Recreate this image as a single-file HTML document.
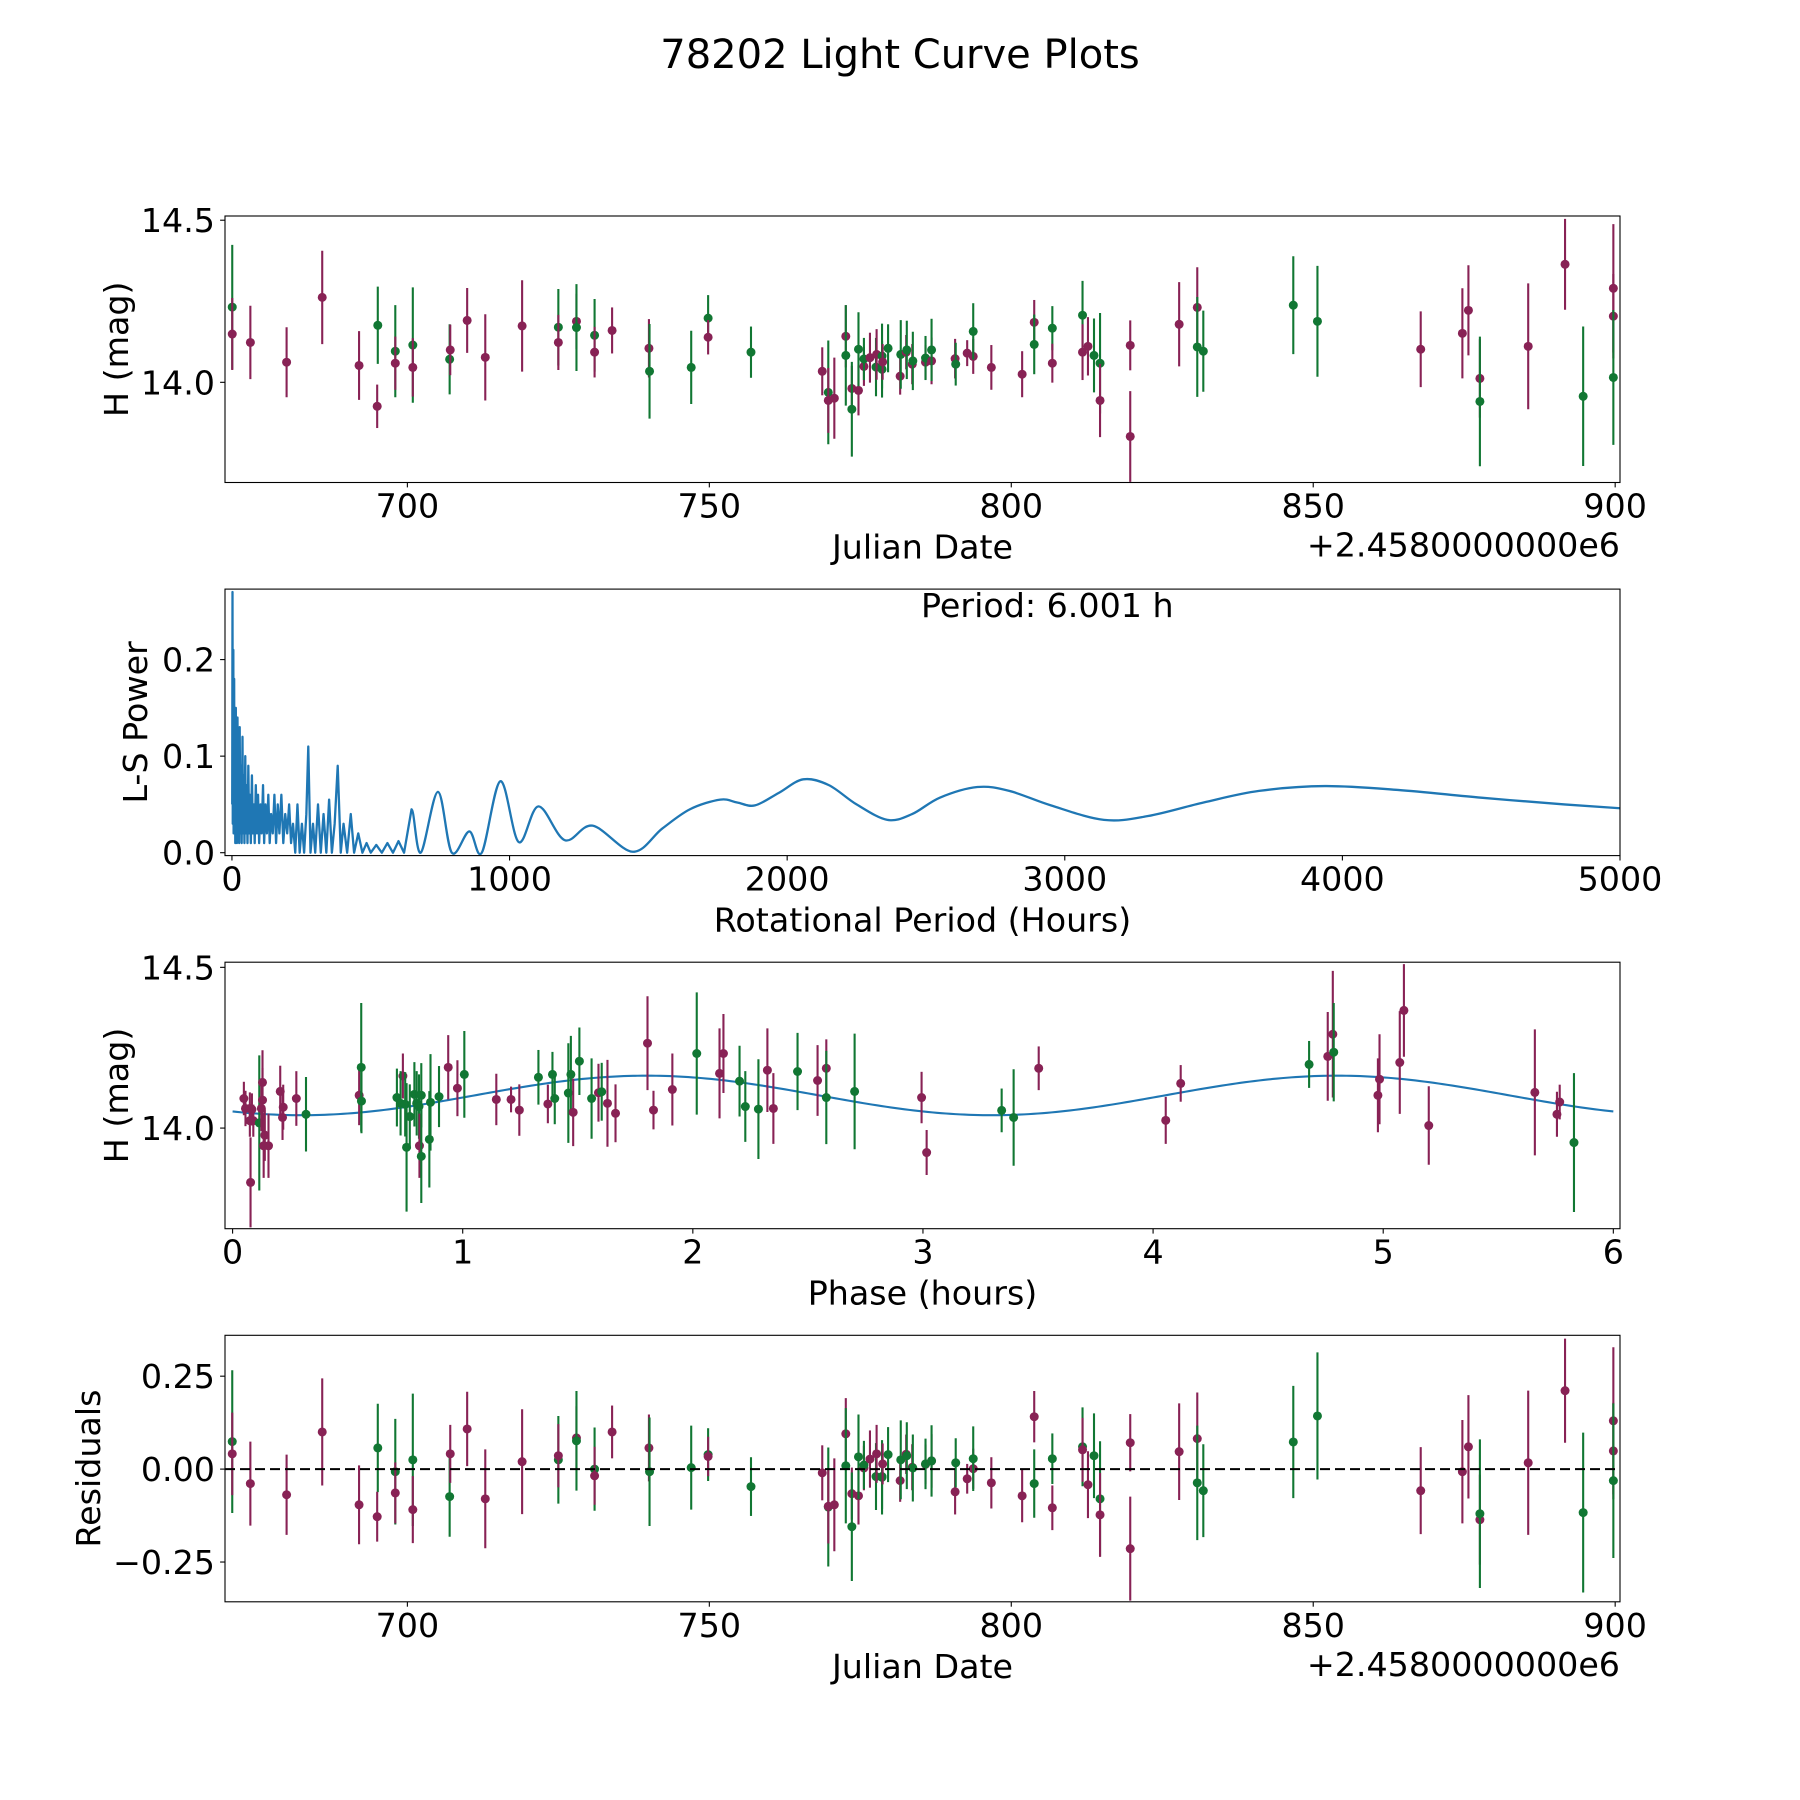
<!DOCTYPE html>
<html><head><meta charset="utf-8"><title>78202 Light Curve Plots</title>
<style>html,body{margin:0;padding:0;background:#fff}svg{display:block}text{font-family:"DejaVu Sans","Liberation Sans",sans-serif;fill:#000}</style>
</head><body>
<svg id="fig" xmlns="http://www.w3.org/2000/svg" width="1800" height="1800" viewBox="0 0 1800 1800">
<rect x="0" y="0" width="1800" height="1800" fill="#fff"/>
<text x="900" y="68" font-size="40" text-anchor="middle">78202 Light Curve Plots</text>
</svg>
<script>
// ---- Panel 1 & 4: observations vs Julian Date (offset 2458000) ----
const obsDates = [671.0,671.0,674.0,680.0,685.9,692.0,695.1,695.0,698.0,698.0,700.9,700.9,707.0,707.1,709.9,712.9,719.0,725.0,725.0,728.0,728.0,731.0,731.0,733.9,740.0,740.1,747.0,
749.8,749.8,756.9,768.7,769.7,769.7,770.7,772.6,772.6,773.6,773.6,774.7,774.7,775.6,775.6,776.6,777.6,777.7,778.6,778.6,778.7,779.6,781.6,781.7,782.6,782.7,783.6,783.7,785.8,785.8,786.8,786.8,790.7,790.8,792.7,793.7,793.7,796.7,801.8,803.8,803.8,806.8,806.8,811.8,811.8,812.7,813.7,814.7,814.7,819.7,819.7,827.8,
830.8,830.8,831.8,846.7,850.7,867.8,874.7,875.7,877.6,877.6,885.6,891.7,894.7,899.7,899.7,899.7];
const obsMags = [14.232,14.149,14.123,14.062,14.262,14.052,14.176,13.926,14.096,14.059,14.115,14.046,14.071,14.100,14.191,14.077,14.174,14.170,14.123,14.188,14.169,14.145,14.093,14.160,14.105,14.034,14.046,
14.198,14.139,14.093,14.034,13.969,13.944,13.951,14.142,14.083,13.981,13.917,13.975,14.102,14.049,14.072,14.076,14.047,14.086,14.081,14.040,14.063,14.105,14.019,14.086,14.093,14.100,14.056,14.066,14.062,14.075,14.066,14.100,14.073,14.056,14.090,14.080,14.157,14.046,14.025,14.185,14.117,14.167,14.059,14.207,14.093,14.111,14.083,14.059,13.944,14.114,13.833,14.179,
14.231,14.109,14.096,14.238,14.188,14.102,14.151,14.222,14.012,13.941,14.111,14.364,13.957,14.290,14.204,14.015];
const obsErrs = [0.192,0.111,0.113,0.108,0.144,0.106,0.119,0.067,0.142,0.082,0.178,0.090,0.108,0.078,0.100,0.133,0.141,0.118,0.085,0.085,0.134,0.112,0.078,0.071,0.090,0.146,0.113,
0.071,0.053,0.079,0.074,0.160,0.100,0.125,0.096,0.155,0.070,0.146,0.077,0.114,0.060,0.065,0.077,0.090,0.078,0.100,0.087,0.055,0.074,0.057,0.106,0.053,0.090,0.062,0.090,0.053,0.068,0.072,0.096,0.061,0.066,0.040,0.054,0.087,0.069,0.071,0.069,0.092,0.068,0.060,0.106,0.086,0.090,0.114,0.155,0.113,0.077,0.140,0.130,
0.124,0.154,0.125,0.151,0.171,0.117,0.139,0.139,0.121,0.200,0.194,0.140,0.215,0.198,0.130,0.208];
const obsFilters = ["G","M","M","M","M","M","G","M","G","M","G","M","G","M","M","M","M","G","M","M","G","G","M","M","M","G","G",
"G","M","G","M","G","M","M","M","G","M","G","M","G","M","G","M","G","M","G","G","M","G","M","G","M","G","M","G","M","G","M","G","M","G","M","M","G","M","M","M","G","G","M","G","M","M","G","G","M","M","M","M",
"M","G","G","G","G","M","M","M","M","G","M","M","G","M","M","G"];
const obsResiduals = [0.074,0.041,-0.039,-0.069,0.100,-0.096,0.057,-0.128,-0.007,-0.064,0.025,-0.109,-0.074,0.041,0.108,-0.080,0.020,0.025,0.036,0.084,0.076,0.000,-0.018,0.100,0.057,-0.007,0.004,
0.039,0.034,-0.047,-0.010,-0.102,-0.100,-0.096,0.095,0.009,-0.066,-0.155,-0.072,0.033,0.003,0.011,0.027,-0.020,0.041,-0.022,-0.020,0.014,0.039,-0.031,0.025,0.040,0.036,0.005,0.003,0.013,0.014,0.022,0.022,-0.061,0.017,-0.026,0.001,0.028,-0.037,-0.072,0.141,-0.039,0.028,-0.104,0.060,0.052,-0.042,0.036,-0.080,-0.123,0.071,-0.214,0.047,
0.082,-0.037,-0.058,0.073,0.143,-0.058,-0.007,0.060,-0.136,-0.120,0.017,0.211,-0.117,0.130,0.049,-0.031];

// ---- Panel 2: Lomb-Scargle periodogram ----
const lsPeriods = [1,2,3,5,6,8,9,11,12,14,15,17,18,20,22,24,26,28,30,33,35,38,40,43,45,48,50,53,56,59,62,65,68,72,75,79,82,86,90,94,98,103,107,112,116,121,126,131,136,141,147,153,159,165,171,178,185,192,199,206,213,220,228,236,244,252,260,268,275,283,292,300,310,320,330,340,350,360,370,381,392,402,415,428,440,455,470,485,500,520,540,560,580,600,620,647,680,742,792,855,900,967,1033,1104,1199,1299,1444,1550,1650,1759,1820,1884,1970,2058,2150,2250,2361,2450,2550,2685,2800,2950,3141,3300,3500,3700,3937,4200,4500,4800,5000];
const lsPowers = [0.05,0.27,0.03,0.21,0.02,0.18,0.03,0.14,0.01,0.15,0.02,0.12,0.01,0.14,0.02,0.10,0.01,0.13,0.02,0.09,0.01,0.12,0.02,0.08,0.01,0.10,0.02,0.07,0.01,0.09,0.02,0.06,0.01,0.08,0.02,0.05,0.01,0.07,0.02,0.06,0.01,0.05,0.02,0.07,0.01,0.05,0.02,0.06,0.01,0.04,0.02,0.06,0.01,0.05,0.02,0.06,0.01,0.04,0.02,0.05,0.01,0.03,0.0,0.05,0.0,0.03,0.0,0.04,0.11,0.0,0.03,0.0,0.05,0.0,0.04,0.0,0.055,0.0,0.03,0.09,0.0,0.03,0.0,0.04,0.0,0.02,0.0,0.01,0.0,0.008,0.0,0.01,0.0,0.012,0.0,0.045,0.0,0.063,0.0,0.022,0.0,0.074,0.011,0.048,0.013,0.028,0.001,0.025,0.045,0.055,0.052,0.049,0.062,0.076,0.070,0.050,0.034,0.040,0.057,0.068,0.064,0.049,0.034,0.038,0.052,0.064,0.069,0.065,0.057,0.050,0.046];
const periodLabel = "Period: 6.001 h";

// ---- Panel 3: phase-folded light curve ----
const phaseHours = [0.049,0.056,0.075,0.078,0.084,0.075,0.09,0.116,0.13,0.13,0.125,0.14,0.135,0.156,0.207,0.217,0.22,0.277,0.319,0.55,0.559,0.56,0.714,0.74,0.73,0.75,0.756,0.77,0.79,0.80,0.81,0.82,0.812,0.82,0.855,0.86,0.897,0.937,0.977,1.007,1.146,1.21,1.246,1.329,1.37,1.39,1.40,1.459,1.47,1.48,1.507,1.56,1.59,1.604,1.629,1.664,1.803,1.829,1.911,2.017,2.116,2.133,2.203,2.228,2.285,2.324,2.35,2.455,2.542,2.58,2.58,2.703,2.994,3.016,3.342,3.394,3.503,4.055,4.12,4.678,4.759,4.781,4.785,4.977,4.984,5.072,5.09,5.198,5.659,5.755,5.767,5.829];
const phaseMags = [14.092,14.061,14.061,13.831,14.058,14.023,14.023,14.016,14.142,14.087,14.061,13.978,13.945,13.945,14.114,14.033,14.065,14.092,14.043,14.102,14.189,14.084,14.095,14.162,14.077,14.074,13.94,14.036,14.105,14.077,14.067,14.102,13.945,13.912,13.965,14.08,14.098,14.189,14.124,14.167,14.089,14.089,14.056,14.158,14.075,14.167,14.092,14.109,14.167,14.049,14.208,14.092,14.11,14.113,14.077,14.046,14.264,14.056,14.12,14.232,14.17,14.232,14.146,14.067,14.059,14.18,14.061,14.176,14.148,14.186,14.095,14.114,14.095,13.924,14.055,14.033,14.186,14.024,14.139,14.198,14.223,14.292,14.236,14.102,14.152,14.204,14.366,14.008,14.111,14.043,14.081,13.955];
const phaseErrs = [0.052,0.055,0.05,0.14,0.05,0.05,0.05,0.21,0.1,0.1,0.07,0.08,0.1,0.1,0.08,0.07,0.07,0.085,0.116,0.093,0.2,0.1,0.09,0.07,0.1,0.1,0.2,0.1,0.1,0.1,0.1,0.1,0.1,0.145,0.15,0.15,0.095,0.1,0.087,0.135,0.08,0.04,0.08,0.085,0.06,0.07,0.08,0.155,0.12,0.105,0.105,0.125,0.09,0.09,0.135,0.09,0.146,0.06,0.112,0.19,0.14,0.123,0.11,0.11,0.155,0.13,0.11,0.12,0.11,0.09,0.145,0.18,0.08,0.07,0.068,0.15,0.068,0.073,0.057,0.073,0.138,0.197,0.153,0.115,0.14,0.16,0.144,0.122,0.196,0.07,0.054,0.216];
const phaseFilters = ["M","M","M","M","M","M","M","G","M","M","M","M","M","M","M","M","M","M","G","M","G","G","G","M","G","G","G","G","G","G","G","G","M","G","G","G","G","M","M","G","M","M","M","G","M","G","G","G","G","M","G","G","M","G","M","M","M","M","M","G","M","M","G","G","G","M","M","G","M","M","G","G","M","M","G","G","M","M","M","G","M","M","G","M","M","M","M","M","M","M","M","G"];
// fitted model: mean, amplitude, peak phase, harmonic period (hours)
const modelParams = [14.1015, 0.0615, 1.80, 3.0];

// ---- tick labels ----
const jdTicks = [700,750,800,850,900];
const lsXTicks = [0,1000,2000,3000,4000,5000];
const lsYTicks = [0.0,0.1,0.2];
const lsYLabels = ["0.0","0.1","0.2"];
const magTicks = [14.0,14.5];
const magLabels = ["14.0","14.5"];
const phaseTicks = [0,1,2,3,4,5,6];
const resTicks = [-0.25,0,0.25];
const resLabels = ["\u22120.25","0.00","0.25"];

const NS = "http://www.w3.org/2000/svg";
const svg = document.getElementById('fig');
const COL = {M:"#882255", G:"#117733"};
const L = 225, R = 1620;
const FS = 33.3;
function mk(tag, attrs, parent){ const e = document.createElementNS(NS, tag); for (const k in attrs) e.setAttribute(k, attrs[k]); (parent||svg).appendChild(e); return e; }
function scale(d0,d1,p0,p1){ return v => p0 + (v-d0)/(d1-d0)*(p1-p0); }

function makeAxes(id, top, bot, xd, yd){
  const g = mk('g', {});
  
  
  const cp = mk('clipPath', {id: id+'-clip'}, g);
  mk('rect', {x:L, y:top, width:R-L, height:bot-top}, cp);
  const plot = mk('g', {'clip-path':'url(#'+id+'-clip)'}, g);
  
  
  return {g, plot, top, bot, x: scale(xd[0],xd[1],L,R), y: scale(yd[0],yd[1],bot,top)};
}
function frame(ax, name){
  const r = mk('rect', {x:L, y:ax.top, width:R-L, height:ax.bot-ax.top, fill:'none', stroke:'#000', 'stroke-width':1.1}, ax.g);
  
  
}
function xTicks(ax, vals, labels, name){
  vals.forEach((v,i) => {
    const px = ax.x(v);
    mk('line', {x1:px, x2:px, y1:ax.bot, y2:ax.bot+4.9, stroke:'#000', 'stroke-width':1.1}, ax.g);
    const t = mk('text', {x:px, y:ax.bot+35, 'font-size':FS, 'text-anchor':'middle'}, ax.g);
    t.textContent = labels[i];
    
    
  });
}
function yTicks(ax, vals, labels, name){
  vals.forEach((v,i) => {
    const py = ax.y(v);
    mk('line', {x1:L-4.9, x2:L, y1:py, y2:py, stroke:'#000', 'stroke-width':1.1}, ax.g);
    const t = mk('text', {x:L-10, y:py+12, 'font-size':FS, 'text-anchor':'end'}, ax.g);
    t.textContent = labels[i];
    
    
  });
}
function xLabel(ax, txt, name){
  const t = mk('text', {x:(L+R)/2, y:ax.bot+76, 'font-size':FS, 'text-anchor':'middle'}, ax.g);
  t.textContent = txt;
  
  
}
function yLabel(ax, txt, bx, name){
  const cy = (ax.top+ax.bot)/2;
  const t = mk('text', {x:bx, y:cy, 'font-size':FS, 'text-anchor':'middle', transform:'rotate(-90 '+bx+' '+cy+')'}, ax.g);
  t.textContent = txt;
  
  
}
function offsetText(ax){
  const t = mk('text', {x:R, y:ax.bot+74, 'font-size':FS, 'text-anchor':'end'}, ax.g);
  t.textContent = '+2.4580000000e6';
  
  
}
function errPoint(ax, xv, yv, ev, f, name){
  const px = ax.x(xv), py = ax.y(yv);
  const ln = mk('line', {x1:px, x2:px, y1:ax.y(yv+ev), y2:ax.y(yv-ev), stroke:COL[f], 'stroke-width':2.1}, ax.plot);
  
  
  const c = mk('circle', {cx:px, cy:py, r:4.5, fill:COL[f]}, ax.plot);
  
  
}

// Panel 1
const a1 = makeAxes('lightcurve', 216, 482.5, [669.8, 900.8], [13.691, 14.513]);
obsDates.forEach((d,i) => errPoint(a1, d, obsMags[i], obsErrs[i], obsFilters[i], 'lightcurve'));
frame(a1, 'lightcurve');
xTicks(a1, jdTicks, jdTicks.map(String), 'lightcurve');
yTicks(a1, magTicks, magLabels, 'lightcurve');
xLabel(a1, 'Julian Date', 'lightcurve-x-axis-title');
offsetText(a1);
yLabel(a1, 'H (mag)', 128, 'lightcurve-y-axis-title');

// Panel 2
const a2 = makeAxes('periodogram', 589.1, 855.6, [-25, 5000], [-0.003, 0.273]);
(function(){
  const pts = lsPeriods.map((p,i) => [a2.x(p), a2.y(lsPowers[i])]);
  let d = 'M' + pts[0][0].toFixed(2) + ' ' + pts[0][1].toFixed(2);
  for (let i = 1; i < pts.length; i++){
    if (lsPeriods[i] <= 647){ d += ' L' + pts[i][0].toFixed(2) + ' ' + pts[i][1].toFixed(2); continue; }
    const p0 = pts[i-2] || pts[i-1], p1 = pts[i-1], p2 = pts[i], p3 = pts[i+1] || pts[i];
    const c1x = p1[0] + (p2[0]-p0[0])/6, c1y = p1[1] + (p2[1]-p0[1])/6;
    const c2x = p2[0] - (p3[0]-p1[0])/6, c2y = p2[1] - (p3[1]-p1[1])/6;
    d += ' C' + [c1x,c1y,c2x,c2y,p2[0],p2[1]].map(v=>v.toFixed(2)).join(' ');
  }
  const path = mk('path', {d:d, fill:'none', stroke:'#1f77b4', 'stroke-width':2.3, 'stroke-linejoin':'round'}, a2.plot);
  
  
})();
frame(a2, 'periodogram');
xTicks(a2, lsXTicks, lsXTicks.map(String), 'periodogram');
yTicks(a2, lsYTicks, lsYLabels, 'periodogram');
xLabel(a2, 'Rotational Period (Hours)', 'periodogram-x-axis-title');
yLabel(a2, 'L-S Power', 147, 'periodogram-y-axis-title');
const pl = mk('text', {x:921, y:617, 'font-size':FS}, a2.g);
pl.textContent = periodLabel;



// Panel 3
const a3 = makeAxes('phase', 962.2, 1228.7, [-0.033, 6.029], [13.687, 14.516]);
(function(){
  let d = '';
  for (let k = 0; k <= 300; k++){
    const p = 6 * k / 300;
    const m = modelParams[0] + modelParams[1]*Math.cos(2*Math.PI*(p - modelParams[2])/modelParams[3]);
    d += (k ? ' L' : 'M') + a3.x(p).toFixed(2) + ' ' + a3.y(m).toFixed(2);
  }
  const path = mk('path', {d:d, fill:'none', stroke:'#1f77b4', 'stroke-width':2.1}, a3.plot);
  
  
})();
phaseHours.forEach((p,i) => errPoint(a3, p, phaseMags[i], phaseErrs[i], phaseFilters[i], 'phase'));
frame(a3, 'phase');
xTicks(a3, phaseTicks, phaseTicks.map(String), 'phase');
yTicks(a3, magTicks, magLabels, 'phase');
xLabel(a3, 'Phase (hours)', 'phase-x-axis-title');
yLabel(a3, 'H (mag)', 128, 'phase-y-axis-title');

// Panel 4
const a4 = makeAxes('residuals', 1335.3, 1601.8, [669.8, 900.8], [-0.357, 0.360]);
obsDates.forEach((d,i) => errPoint(a4, d, obsResiduals[i], obsErrs[i], obsFilters[i], 'residual'));
(function(){
  const z = a4.y(0);
  const ln = mk('line', {x1:L, x2:R, y1:z, y2:z, stroke:'#000', 'stroke-width':2, 'stroke-dasharray':'10 5'}, a4.plot);
  
  
})();
frame(a4, 'residuals');
xTicks(a4, jdTicks, jdTicks.map(String), 'residuals');
yTicks(a4, resTicks, resLabels, 'residuals');
xLabel(a4, 'Julian Date', 'residuals-x-axis-title');
offsetText(a4);
yLabel(a4, 'Residuals', 100, 'residuals-y-axis-title');
</script>
</body></html>
